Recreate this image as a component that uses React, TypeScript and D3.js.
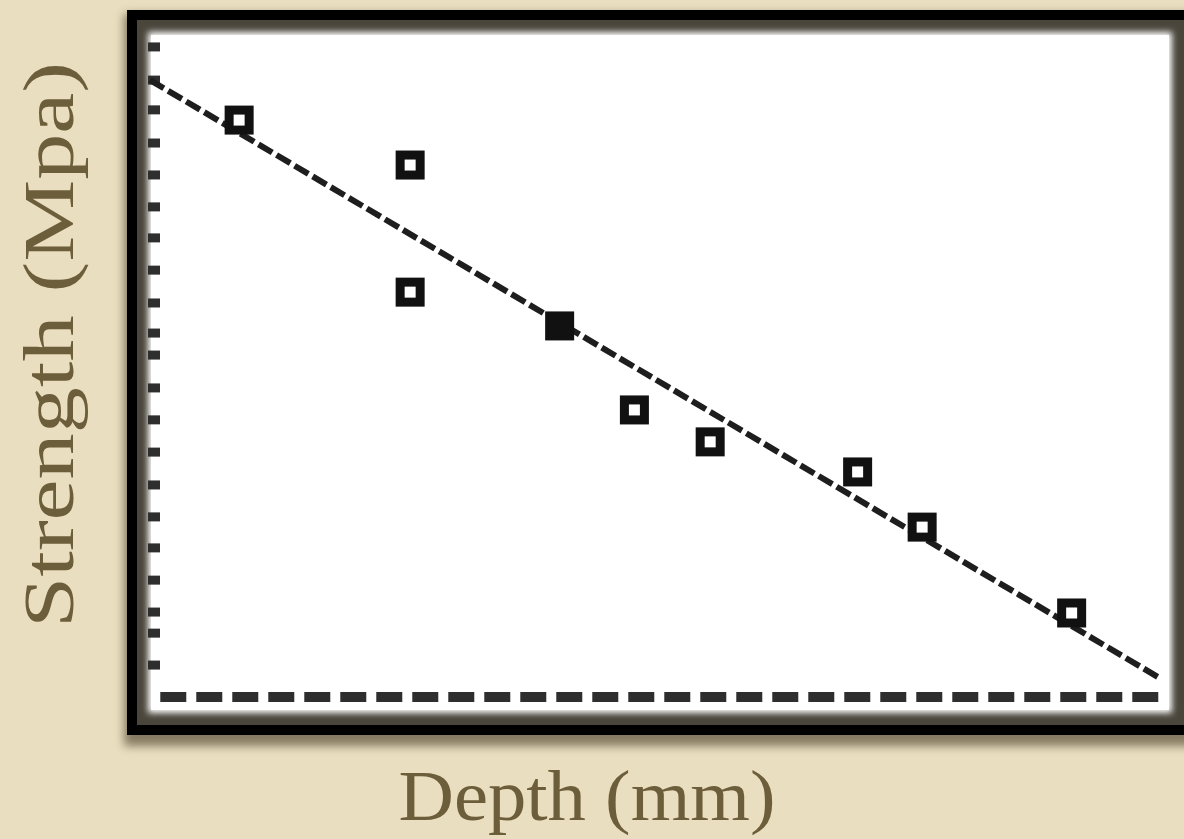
import * as d3 from 'd3';
import React, { useEffect, useRef } from 'react';

// Values (calculator plot, no tick labels)
const depth = [8.9, 25.6, 25.6, 40.2, 47.5, 54.9, 69.3, 75.6, 90.2];
const strength = [18.61, 17.16, 13.06, 11.97, 9.26, 8.23, 7.26, 5.48, 2.71];
const filled = [false, false, false, true, false, false, false, false, false];

// regression line endpoints
const fitDepth = [0.2, 98.6];
const fitStrength = [19.9, 0.65];

// y-axis tick marks (pixel-snapped on the calculator screen)
const yTicks = [1.03, 2.06, 2.74, 3.77, 4.81, 5.81, 6.84, 7.9, 8.94, 9.97, 11.03, 11.74,
  12.71, 13.77, 14.81, 15.81, 16.84, 17.87, 18.94, 19.9, 20.97];

const xLabel = 'Depth (mm)';
const yLabel = 'Strength (Mpa)';

export default function App() {
  const svgRef = useRef<SVGSVGElement>(null);

  const width = 1184;
  const height = 839;

  // inner white screen
  const plotLeft = 148;
  const plotTop = 32;
  const plotW = 1024;
  const plotH = 681;

  useEffect(() => {
    const svg = d3.select(svgRef.current);
    svg.selectAll('*').remove();

    const defs = svg.append('defs');
    defs.append('filter').attr('id', 'soft')
      .attr('x', '-5%').attr('y', '-5%').attr('width', '110%').attr('height', '110%')
      .append('feGaussianBlur').attr('stdDeviation', 3);
    defs.append('filter').attr('id', 'shadow')
      .attr('x', '-5%').attr('y', '-5%').attr('width', '110%').attr('height', '120%')
      .append('feGaussianBlur').attr('stdDeviation', 5);

    // background
    svg.append('rect').attr('width', width).attr('height', height).attr('fill', '#eadec0');

    // frame shadow + frame
    svg.append('rect')
      .attr('x', 124).attr('y', 14).attr('width', 1080).attr('height', 732)
      .attr('fill', '#5a5038').attr('opacity', 0.7)
      .attr('filter', 'url(#shadow)');
    svg.append('rect')
      .attr('x', 127).attr('y', 10).attr('width', 1080).attr('height', 725)
      .attr('fill', '#000');
    svg.append('rect')
      .attr('x', 137).attr('y', 20).attr('width', 1060).attr('height', 705)
      .attr('fill', '#4a463c');
    svg.append('rect')
      .attr('x', plotLeft).attr('y', plotTop).attr('width', plotW).attr('height', plotH)
      .attr('fill', '#ffffff').attr('filter', 'url(#soft)');
    svg.append('rect')
      .attr('x', plotLeft + 3).attr('y', plotTop + 3).attr('width', plotW - 6).attr('height', plotH - 6)
      .attr('fill', '#ffffff');

    const x = d3.scaleLinear().domain([0, 100]).range([plotLeft, plotLeft + plotW]);
    const y = d3.scaleLinear().domain([0, 21]).range([697, 46]);

    const g = svg.append('g');

    // y-axis ticks along the left edge
    g.selectAll('.ytick')
      .data(yTicks)
      .enter()
      .append('line')
      .attr('x1', plotLeft)
      .attr('x2', plotLeft + 12)
      .attr('y1', (d) => y(d))
      .attr('y2', (d) => y(d))
      .attr('stroke', '#2e2e2e')
      .attr('stroke-width', 9);

    // x axis (dense ticks look like a dashed line)
    g.append('line')
      .attr('x1', x(1.2)).attr('x2', x(98.8))
      .attr('y1', y(0)).attr('y2', y(0))
      .attr('stroke', '#2e2e2e')
      .attr('stroke-width', 10)
      .attr('stroke-dasharray', '26 10');

    // regression line
    const line = d3.line<number>()
      .x((d, i) => x(fitDepth[i]))
      .y((d) => y(d));
    g.append('path')
      .datum(fitStrength)
      .attr('d', line)
      .attr('fill', 'none')
      .attr('stroke', '#1e1e1e')
      .attr('stroke-width', 6)
      .attr('stroke-dasharray', '16 5');

    // data points
    const s = 20;
    g.selectAll('.pt')
      .data(depth)
      .enter()
      .append('rect')
      .attr('x', (d) => x(d) - s / 2)
      .attr('y', (d, i) => y(strength[i]) - s / 2)
      .attr('width', s)
      .attr('height', s)
      .attr('fill', (d, i) => (filled[i] ? '#111' : '#fff'))
      .attr('stroke', '#111')
      .attr('stroke-width', 9);

    // axis titles
    svg.append('text')
      .attr('x', 587)
      .attr('y', 820)
      .attr('text-anchor', 'middle')
      .attr('font-family', '"Liberation Serif", serif')
      .attr('font-size', 72)
      .attr('fill', '#6d5e3b')
      .attr('textLength', 377)
      .attr('lengthAdjust', 'spacingAndGlyphs')
      .text(xLabel);

    svg.append('text')
      .attr('transform', 'translate(73,345) rotate(-90)')
      .attr('text-anchor', 'middle')
      .attr('font-family', '"Liberation Serif", serif')
      .attr('font-size', 72)
      .attr('fill', '#6d5e3b')
      .attr('textLength', 566)
      .attr('lengthAdjust', 'spacingAndGlyphs')
      .text(yLabel);
  }, []);

  return (
    <svg ref={svgRef} width={width} height={height}
      style={{ position: 'absolute', left: 0, top: 0 }}></svg>
  );
}
